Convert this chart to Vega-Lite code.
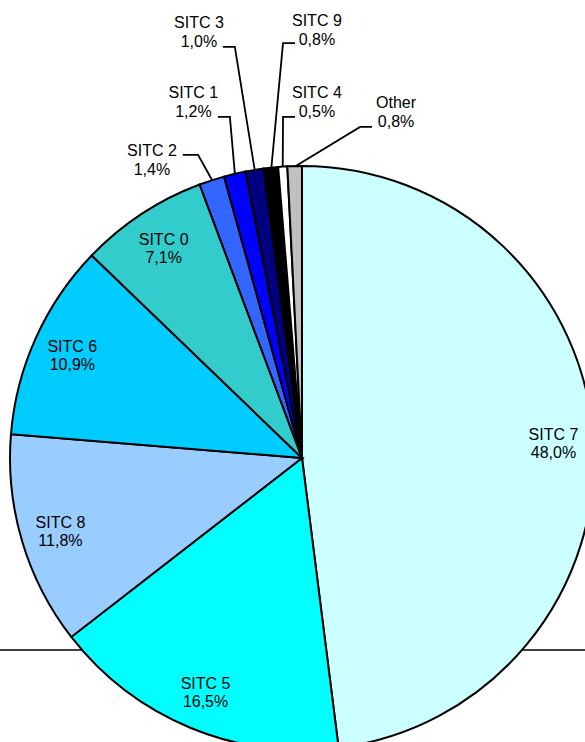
{
  "$schema": "https://vega.github.io/schema/vega-lite/v6.json",
  "width": 604,
  "height": 916,
  "autosize": {"type": "none"},
  "padding": 0,
  "background": "white",
  "config": {"view": {"stroke": null}, "text": {"font": "Liberation Sans", "fontSize": 16, "color": "black"}},
  "datasets": {
    "shares": [
      {"name": "SITC 7", "value": 48.0, "order": 1},
      {"name": "SITC 5", "value": 16.5, "order": 2},
      {"name": "SITC 8", "value": 11.8, "order": 3},
      {"name": "SITC 6", "value": 10.9, "order": 4},
      {"name": "SITC 0", "value": 7.1, "order": 5},
      {"name": "SITC 2", "value": 1.4, "order": 6},
      {"name": "SITC 1", "value": 1.2, "order": 7},
      {"name": "SITC 3", "value": 1.0, "order": 8},
      {"name": "SITC 9", "value": 0.8, "order": 9},
      {"name": "SITC 4", "value": 0.5, "order": 10},
      {"name": "Other", "value": 0.8, "order": 11}
    ],
    "callouts": [
      {"name": "SITC 2", "lx": -51.4, "ly": 101.9},
      {"name": "SITC 1", "lx": -37.2, "ly": 121.8},
      {"name": "SITC 3", "lx": -35.3, "ly": 145.7},
      {"name": "SITC 9", "lx": 5.1, "ly": 146.4},
      {"name": "SITC 4", "lx": 5.1, "ly": 121.6},
      {"name": "Other", "lx": 32.2, "ly": 118.2}
    ],
    "leaders": [
      {"name": "SITC 2", "seq": 1, "px": -40.8, "py": 103.8},
      {"name": "SITC 2", "seq": 2, "px": -35.6, "py": 103.8},
      {"name": "SITC 2", "seq": 3, "px": -30.8, "py": 95.2},
      {"name": "SITC 1", "seq": 1, "px": -28.8, "py": 116.8},
      {"name": "SITC 1", "seq": 2, "px": -24.7, "py": 116.8},
      {"name": "SITC 1", "seq": 3, "px": -23.0, "py": 97.5},
      {"name": "SITC 3", "seq": 1, "px": -27.1, "py": 140.8},
      {"name": "SITC 3", "seq": 2, "px": -23.0, "py": 140.8},
      {"name": "SITC 3", "seq": 3, "px": -16.2, "py": 98.7},
      {"name": "SITC 9", "seq": 1, "px": -2.4, "py": 142.1},
      {"name": "SITC 9", "seq": 2, "px": -6.5, "py": 142.1},
      {"name": "SITC 9", "seq": 3, "px": -10.5, "py": 99.3},
      {"name": "SITC 4", "seq": 1, "px": -2.4, "py": 116.8},
      {"name": "SITC 4", "seq": 2, "px": -6.5, "py": 116.8},
      {"name": "SITC 4", "seq": 3, "px": -6.6, "py": 99.6},
      {"name": "Other", "seq": 1, "px": 24.0, "py": 113.4},
      {"name": "Other", "seq": 2, "px": 19.9, "py": 113.4},
      {"name": "Other", "seq": 3, "px": -2.4, "py": 99.8}
    ],
    "frame": [{"level": -65.75}]
  },
  "layer": [
    {
      "data": {"name": "frame"},
      "mark": {"type": "rule", "stroke": "black", "strokeWidth": 1.5},
      "encoding": {
        "y": {"field": "level", "type": "quantitative", "scale": {"domain": [-156.85, 156.85]}, "axis": null}
      }
    },
    {
      "data": {"name": "leaders"},
      "mark": {"type": "line", "stroke": "black", "strokeWidth": 1.8, "interpolate": "linear"},
      "encoding": {
        "x": {"field": "px", "type": "quantitative", "scale": {"domain": [-103.42, 103.42]}, "axis": null},
        "y": {"field": "py", "type": "quantitative", "scale": {"domain": [-156.85, 156.85]}, "axis": null},
        "detail": {"field": "name"},
        "order": {"field": "seq"}
      }
    },
    {
      "data": {"name": "shares"},
      "mark": {"type": "arc", "outerRadius": 292, "stroke": "black", "strokeWidth": 2},
      "encoding": {
        "theta": {"field": "value", "type": "quantitative", "stack": true},
        "order": {"field": "order"},
        "color": {
          "field": "name",
          "type": "nominal",
          "legend": null,
          "scale": {
            "domain": ["SITC 7", "SITC 5", "SITC 8", "SITC 6", "SITC 0", "SITC 2", "SITC 1", "SITC 3", "SITC 9", "SITC 4", "Other"],
            "range": ["#CCFFFF", "#00FFFF", "#99CCFF", "#00CCFF", "#33CCCC", "#3366FF", "#0000FF", "#000080", "#000000", "#FFFFFF", "#C0C0C0"]
          }
        }
      }
    },
    {
      "data": {"name": "shares"},
      "transform": [
        {"calculate": "datum.value < 5 ? '' : datum.name + '\\n' + replace(format(datum.value, '.1f'), '.', ',') + '%'", "as": "label"}
      ],
      "mark": {"type": "text", "radius": 252, "lineBreak": "\n", "lineHeight": 18, "align": "center", "baseline": "middle", "dy": -7},
      "encoding": {
        "theta": {"field": "value", "type": "quantitative", "stack": true},
        "order": {"field": "order"},
        "text": {"field": "label"}
      }
    },
    {
      "data": {"name": "callouts"},
      "transform": [
        {"lookup": "name", "from": {"data": {"name": "shares"}, "key": "name", "fields": ["value"]}},
        {"calculate": "datum.name + '\\n' + replace(format(datum.value, '.1f'), '.', ',') + '%'", "as": "label"}
      ],
      "mark": {"type": "text", "lineBreak": "\n", "lineHeight": 19, "align": "center", "baseline": "middle", "dy": -9.5},
      "encoding": {
        "x": {"field": "lx", "type": "quantitative", "scale": {"domain": [-103.42, 103.42]}, "axis": null},
        "y": {"field": "ly", "type": "quantitative", "scale": {"domain": [-156.85, 156.85]}, "axis": null},
        "text": {"field": "label"}
      }
    }
  ]
}
